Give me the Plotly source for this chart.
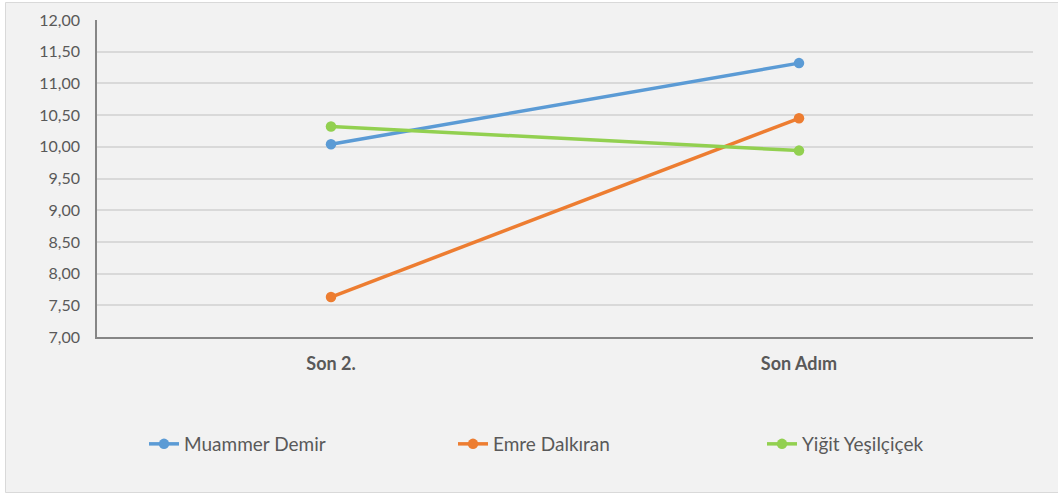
import plotly.graph_objects as go

categories = ["Son 2.", "Son Adım"]
series_names = ["Muammer Demir", "Emre Dalkıran", "Yiğit Yeşilçiçek"]
muammer = [10.04, 11.32]
emre = [7.63, 10.45]
yigit = [10.32, 9.94]
colors = ["#5b9bd5", "#ed7d31", "#92d050"]
y_ticks = [7.0, 7.5, 8.0, 8.5, 9.0, 9.5, 10.0, 10.5, 11.0, 11.5, 12.0]
y_tick_labels = [f"{v:.2f}".replace(".", ",") for v in y_ticks]

fig = go.Figure()
for name, vals, col in zip(series_names, [muammer, emre, yigit], colors):
    fig.add_trace(go.Scatter(
        x=categories, y=vals, name=name, mode="lines+markers",
        line=dict(color=col, width=3.5),
        marker=dict(color=col, size=10.5),
    ))

W, H = 1058, 496
L, R, T, B = 97, 25, 20, 159
pw, ph = W - L - R, H - T - B

def px_x(p):
    return (p - L) / pw

def px_y(p):
    return (H - B - p) / ph

fig.add_shape(type="rect", xref="paper", yref="paper",
              x0=px_x(0), x1=px_x(1058), y0=px_y(496), y1=px_y(0),
              line=dict(width=0), fillcolor="#ffffff", layer="below")
fig.add_shape(type="rect", xref="paper", yref="paper",
              x0=px_x(5.5), x1=px_x(1070), y0=px_y(492.5), y1=px_y(2.5),
              line=dict(color="#d9d9d9", width=1), fillcolor="#f2f2f2",
              layer="below")

fig.update_layout(
    width=W, height=H,
    margin=dict(l=L, r=R, t=T, b=B, autoexpand=False),
    paper_bgcolor="#f2f2f2",
    plot_bgcolor="#ffffff",
    font=dict(family="Lato", color="#595959", size=16),
    xaxis=dict(
        type="category", range=[-0.5, 1.5],
        showgrid=False, showline=True, linecolor="#868686", linewidth=1.5,
        ticks="", tickfont=dict(size=18, color="#595959", family="Lato", weight="bold"),
        ticklabelstandoff=10,
        zeroline=False,
    ),
    yaxis=dict(
        range=[7.0, 12.0], tickvals=y_ticks, ticktext=y_tick_labels,
        showgrid=True, gridcolor="#d9d9d9", gridwidth=1.5,
        showline=True, linecolor="#868686", linewidth=1.5,
        ticks="", tickfont=dict(size=16, color="#595959"),
        zeroline=False, ticklabelstandoff=12,
    ),
    legend=dict(
        orientation="h", xref="container", yref="container",
        x=144 / W, xanchor="left", y=1 - 425 / H, yanchor="top",
        font=dict(size=19, color="#595959"),
        bgcolor="rgba(0,0,0,0)",
        entrywidth=264, entrywidthmode="pixels",
        itemwidth=30,
    ),
    showlegend=True,
)

fig.write_html("out.html",
               config={"displayModeBar": False},
               post_script="document.body.style.margin='0';document.body.style.padding='0';")
